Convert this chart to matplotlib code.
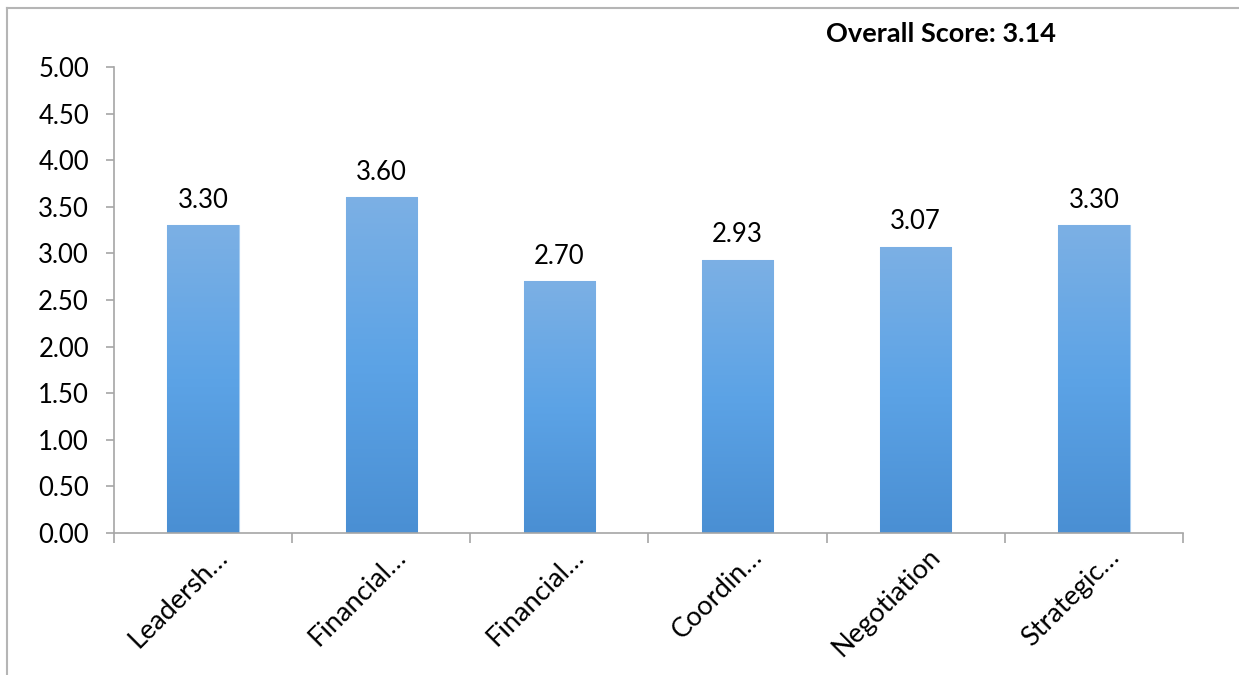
import numpy as np
import matplotlib.pyplot as plt
import matplotlib.transforms as mtransforms
from matplotlib.colors import LinearSegmentedColormap
from matplotlib.lines import Line2D

plt.rcParams['font.family'] = ['Lato', 'DejaVu Sans']

categories = ['Leadersh\u2026', 'Financial\u2026', 'Financial\u2026', 'Coordin\u2026', 'Negotiation', 'Strategic\u2026']
scores = [3.30, 3.60, 2.70, 2.93, 3.07, 3.30]
overall = 3.14

fig = plt.figure(figsize=(12.39, 6.75), dpi=100)
ax = fig.add_axes([0.092, 0.2104, 0.8628, 0.6903])

x = np.arange(len(categories))
bars = ax.bar(x, scores, width=0.4, color='#5a9fe0', edgecolor='#a8cdf0', linewidth=0.8, zorder=2)

# vertical gradient fill, lighter on top
cmap = LinearSegmentedColormap.from_list('g', ['#4a8fd3', '#5ca3e6', '#7cb0e4'])
grad = np.linspace(0, 1, 256).reshape(-1, 1)
for b in bars:
    bx, by = b.get_x(), b.get_y()
    w, h = b.get_width(), b.get_height()
    im = ax.imshow(grad, cmap=cmap, origin='lower', aspect='auto',
                   extent=[bx, bx + w, by, by + h], zorder=2.5)
    im.set_clip_path(b)

for xi, v in zip(x, scores):
    ax.annotate(f'{v:.2f}', (xi, v), xytext=(0, 9), textcoords='offset points',
                ha='center', va='bottom', fontsize=18.5)

ax.set_xlim(-0.5, len(categories) - 0.5)
ax.set_ylim(0, 5)
ax.set_yticks(np.arange(0, 5.01, 0.5))
ax.set_yticklabels([f'{t:.2f}' for t in np.arange(0, 5.01, 0.5)], fontsize=18.5)

ax.set_xticks(x)
ax.set_xticklabels(categories, rotation=45, ha='right', rotation_mode='anchor', fontsize=19.5)
ax.tick_params(axis='x', which='major', length=0, pad=8)
ax.set_xticks(np.arange(-0.5, len(categories), 1), minor=True)
ax.tick_params(axis='x', which='minor', length=7, color='#a6a6a6', width=1.2)
ax.tick_params(axis='y', length=6, color='#a6a6a6', width=1.2, pad=12)

for s in ['top', 'right']:
    ax.spines[s].set_visible(False)
for s in ['left', 'bottom']:
    ax.spines[s].set_color('#a6a6a6')
    ax.spines[s].set_linewidth(1.2)

# shift x labels slightly right
off = mtransforms.ScaledTranslation(0.12, 0, fig.dpi_scale_trans)
for lbl in ax.get_xticklabels():
    lbl.set_transform(lbl.get_transform() + off)

fig.text(0.6667, 0.95, f'Overall Score: {overall:.2f}', fontsize=19.5, fontweight='bold',
         ha='left', va='center')

# outer frame (left and top edges)
fig.add_artist(Line2D([7 / 1239, 7 / 1239], [0, 1 - 8 / 675], transform=fig.transFigure,
                      color='#b5b5b5', lw=1.5))
fig.add_artist(Line2D([7 / 1239, 1], [1 - 8 / 675, 1 - 8 / 675], transform=fig.transFigure,
                      color='#b5b5b5', lw=1.5))

fig.savefig('out.png', dpi=100)
